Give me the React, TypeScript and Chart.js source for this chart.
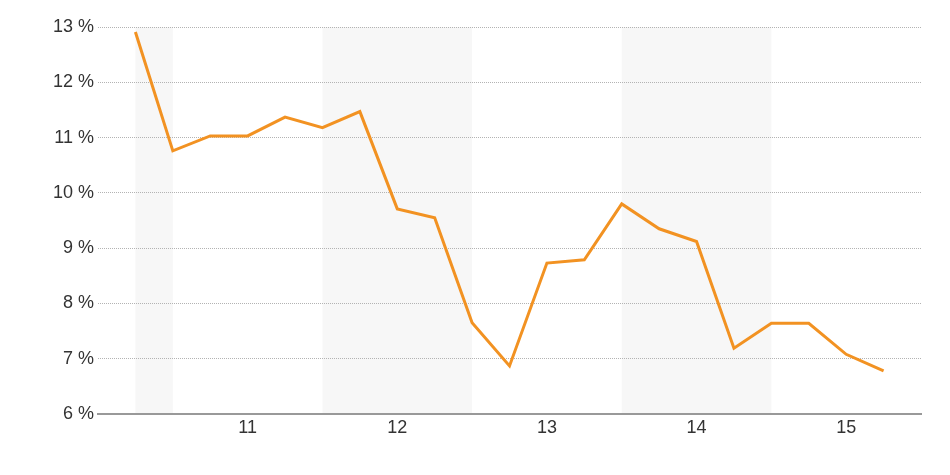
import React, { useEffect, useRef } from "react";
import { Chart, registerables } from "chart.js";

Chart.register(...registerables);

// time in years (quarter steps), e.g. 11.25 = second quarter of year 11
const quarters = [10.75, 11, 11.25, 11.5, 11.75, 12, 12.25, 12.5, 12.75, 13, 13.25, 13.5, 13.75, 14, 14.25, 14.5, 14.75, 15, 15.25, 15.5, 15.75];
const rates = [12.91, 10.76, 11.03, 11.03, 11.37, 11.18, 11.47, 9.71, 9.55, 7.65, 6.87, 8.73, 8.79, 9.8, 9.35, 9.12, 7.19, 7.64, 7.64, 7.08, 6.78];
const yearLabels = [11, 12, 13, 14, 15];
const shadedBands: [number, number][] = [[10.75, 11], [12, 13], [14, 15]];
const yTicks = [6, 7, 8, 9, 10, 11, 12, 13];

const FONT = "'Liberation Sans', Arial, sans-serif";

export default function App() {
  const ref = useRef<HTMLCanvasElement | null>(null);

  useEffect(() => {
    if (!ref.current) return;
    const bandPlugin = {
      id: "bands",
      beforeDraw(chart: any) {
        const { ctx, chartArea, scales } = chart;
        ctx.save();
        ctx.fillStyle = "#f7f7f7";
        for (const [a, b] of shadedBands) {
          const x1 = scales.x.getPixelForValue(a);
          const x2 = scales.x.getPixelForValue(b);
          ctx.fillRect(x1, chartArea.top, x2 - x1, chartArea.bottom - chartArea.top);
        }
        ctx.restore();
      },
    };
    const chart = new Chart(ref.current, {
      type: "line",
      data: {
        datasets: [
          {
            data: quarters.map((q, i) => ({ x: q, y: rates[i] })),
            borderColor: "#f29222",
            borderWidth: 3,
            pointRadius: 0,
            tension: 0,
            fill: false,
          },
        ],
      },
      options: {
        animation: false,
        responsive: false,
        maintainAspectRatio: false,
        layout: { padding: { top: 27, right: 29, left: 0, bottom: 0 } },
        plugins: { legend: { display: false }, tooltip: { enabled: false } },
        scales: {
          x: {
            type: "linear",
            min: 10.5,
            max: 16,
            afterBuildTicks: (s: any) => {
              s.ticks = yearLabels.map((y) => ({ value: y + 0.5 }));
            },
            afterFit: (s: any) => {
              s.height = 61;
            },
            ticks: {
              autoSkip: false,
              maxRotation: 0,
              padding: 3,
              color: "#333",
              font: { family: FONT, size: 18 },
              callback: (v: any) => String(Math.floor(Number(v))),
            },
            grid: { display: false, drawTicks: false },
            border: { display: true, color: "#999", width: 2 },
          },
          y: {
            min: 6,
            max: 13,
            afterBuildTicks: (s: any) => {
              s.ticks = yTicks.map((v) => ({ value: v }));
            },
            afterFit: (s: any) => {
              s.width = 98;
            },
            ticks: {
              padding: 4,
              color: "#333",
              font: { family: FONT, size: 18 },
              callback: (v: any) => v + " %",
            },
            grid: { color: "#b3b3b3", lineWidth: 1, drawTicks: false, borderDash: [1, 1] } as any,
            border: { display: false, dash: [1, 1] },
          },
        },
      } as any,
      plugins: [bandPlugin],
    });
    return () => chart.destroy();
  }, []);

  return (
    <div style={{ position: "absolute", left: 0, top: 0, width: 950, height: 475 }}>
      <canvas ref={ref} width={950} height={475} style={{ width: 950, height: 475 }} />
    </div>
  );
}
